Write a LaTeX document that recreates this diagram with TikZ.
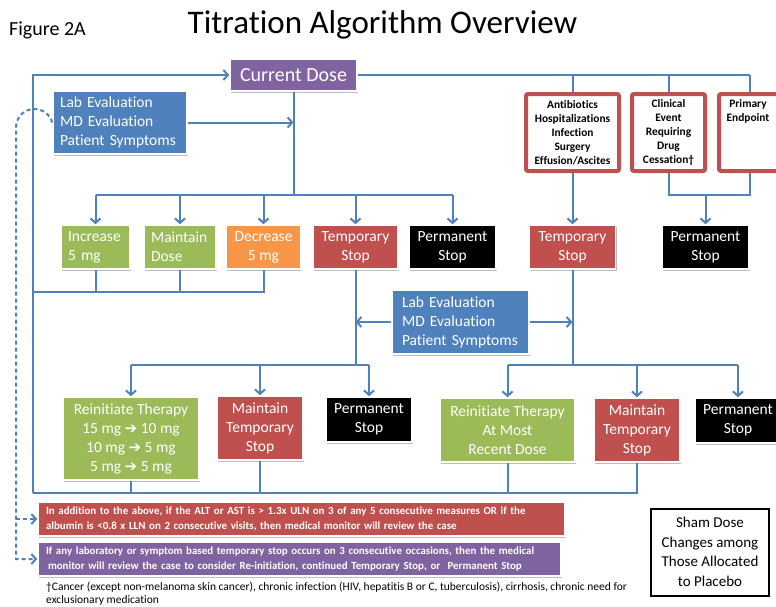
\documentclass[tikz,border=0pt]{standalone}
\usepackage{fontspec}
\setmainfont{Carlito}[Ligatures=NoCommon]
\newfontfamily\djv{DejaVu Sans}
\usetikzlibrary{arrows.meta,shadows}
\definecolor{lblue}{HTML}{4F81BD}
\definecolor{bpurple}{HTML}{8064A2}
\definecolor{bgreen}{HTML}{9BBB59}
\definecolor{borange}{HTML}{F79646}
\definecolor{bred}{HTML}{C0504D}
\newcommand{\fsz}[2]{\fontsize{#1}{#2}\selectfont}
\newcommand{\rar}{{\djv\bfseries\fontsize{15}{15}\selectfont ➔}}
\tikzset{
  ln/.style={draw=lblue, line width=2pt},
  arr/.style={ln, -{Straight Barb[length=4.5pt,width=10pt]}},
  darr/.style={ln, dash pattern=on 4pt off 3pt, -{Straight Barb[length=4.5pt,width=10pt]}},
  shad/.style={drop shadow={shadow xshift=1.2pt, shadow yshift=-1.5pt, fill=black, opacity=0.25}},
  box/.style={draw=white, line width=1.5pt, text=white, inner sep=0pt, align=center,
    font=\fsz{15.5}{19}, shad},
  rbox/.style={draw=bred, line width=4pt, fill=white, rounded corners=2pt, text=black,
    inner sep=0pt, align=center, font=\bfseries\fsz{11.4}{13.9}, shad},
  nbox/.style={draw=white, line width=1.5pt, text=white, inner sep=0pt, align=left,
    font=\bfseries\fsz{10.9}{14.5}, shad},
}
\begin{document}
\begin{tikzpicture}[x=1pt,y=-1pt]
\useasboundingbox (0,0) rectangle (776,606);
\fill[white] (0,0) rectangle (776,606);

% titles
\node[anchor=base west, inner sep=0pt, font=\fsz{20}{24}] (fig) at (9,35) {Figure 2A};
\node[anchor=base, inner sep=0pt, font=\fsz{33}{38}] (title) at (382.5,33) {Titration Algorithm Overview};

% top
\node[box, fill=bpurple, minimum width=127pt, minimum height=32pt, font=\fsz{20}{24}] (cd) at (293.5,75) {Current Dose};
\node[box, fill=lblue, minimum width=134pt, minimum height=63pt, align=left, text width=120pt] (labT) at (120,122.5) {Lab Evaluation\\MD Evaluation\\Patient Symptoms};

\node[rbox, minimum width=93pt, minimum height=77pt] (ab) at (572.5,132.5) {Antibiotics\\Hospitalizations\\Infection\\Surgery\\Effusion/Ascites};
\node[rbox, minimum width=73pt, minimum height=77pt] (ce) at (668.5,132.5) {Clinical\\Event\\Requiring\\Drug\\Cessation†};
\node[rbox, minimum width=62pt, minimum height=77pt] (pe) at (750,132.5) {};
\node[anchor=north, inner sep=0pt, align=center, font=\bfseries\fsz{11.4}{13.9}] (pet) at (748,99.5) {Primary\\Endpoint};

% row 1
\node[box, fill=bgreen, minimum width=69pt, minimum height=44pt, align=left, text width=55pt] (inc) at (95.5,247) {Increase\\5 mg};
\node[box, fill=bgreen, minimum width=72pt, minimum height=44pt, align=left, text width=58pt] (mnt) at (180,247) {Maintain\\Dose};
\node[box, fill=borange, minimum width=75pt, minimum height=44pt] (dec) at (263.5,247) {Decrease\\5 mg};
\node[box, fill=bred, minimum width=85pt, minimum height=44pt] (tsl) at (355.5,247) {Temporary\\Stop};
\node[box, fill=black, minimum width=87pt, minimum height=44pt] (psl) at (452.5,247) {Permanent\\Stop};
\node[box, fill=bred, minimum width=86pt, minimum height=44pt] (tsr) at (572.5,247) {Temporary\\Stop};
\node[box, fill=black, minimum width=87pt, minimum height=44pt] (psr) at (705.5,247) {Permanent\\Stop};

% middle lab box
\node[box, fill=lblue, minimum width=137pt, minimum height=64pt, align=left, text width=117pt] (labM) at (460.5,322) {Lab Evaluation\\MD Evaluation\\Patient Symptoms};

% row 2
\node[box, fill=bgreen, minimum width=136pt, minimum height=83pt] (reL) at (131,438.5) {Reinitiate Therapy\\15 mg \rar{} 10 mg\\10 mg \rar{} 5 mg\\5 mg \rar{} 5 mg};
\node[box, fill=bred, minimum width=86pt, minimum height=64pt] (mtL) at (260,428) {Maintain\\Temporary\\Stop};
\node[box, fill=black, minimum width=86pt, minimum height=45pt] (psL2) at (369,419.5) {Permanent\\Stop};
\node[box, fill=bgreen, minimum width=135pt, minimum height=64pt] (reR) at (507.5,430) {Reinitiate Therapy\\At Most\\Recent Dose};
\node[box, fill=bred, minimum width=86pt, minimum height=64pt] (mtR) at (637,430) {Maintain\\Temporary\\Stop};
\node[box, fill=black, minimum width=86pt, minimum height=45pt] (psR2) at (738,420.5) {Permanent\\Stop};

% notes
\node[nbox, fill=bred, minimum width=527pt, minimum height=34pt, text width=511pt] (rbx) at (301.5,519) {In addition to the above, if the ALT or AST is > 1.3x ULN on 3 of any 5 consecutive measures OR if the\\albumin is <0.8 x LLN on 2 consecutive visits, then medical monitor will review the case};
\node[nbox, fill=bpurple, minimum width=523pt, minimum height=34pt, text width=507pt] (pbx) at (299.5,559) {If any laboratory or symptom based temporary stop occurs on 3 consecutive occasions, then the medical\\\hspace*{2pt}monitor will review the case to consider Re-initiation, continued Temporary Stop, or\ \ Permanent Stop};
\node[draw=black, line width=2pt, fill=white, minimum width=118pt, minimum height=87pt, align=center, font=\fsz{15}{19.5}, inner sep=0pt, shad] (sham) at (710,552) {Sham Dose\\Changes among\\Those Allocated\\to Placebo};
\node[anchor=north west, inner sep=0pt, align=left, font=\fsz{11.5}{13}] (foot) at (46,582) {†Cancer (except non-melanoma skin cancer), chronic infection (HIV, hepatitis B or C, tuberculosis), cirrhosis, chronic need for\\exclusionary medication};

% coordinates
\coordinate (cBL) at (33,493);
\coordinate (cML) at (33,292);
\coordinate (cBr) at (293.5,195);
\coordinate (cJ) at (705.5,195);
\coordinate (c2L) at (355.5,365);
\coordinate (c2R) at (572.5,365);

% connectors
\draw[arr] (cBL) |- (cd.west);
\draw[ln] (mtR.south) |- (cBL);
\draw[ln] (reL.south) -- (reL.south |- cBL);
\draw[ln] (mtL.south) -- (mtL.south |- cBL);
\draw[ln] (reR.south) -- (reR.south |- cBL);
\draw[ln] (dec.south) |- (cML);
\draw[ln] (inc.south) -- (inc.south |- cML);
\draw[ln] (mnt.south) -- (mnt.south |- cML);

\draw[ln] (cd.south) -- (cBr);
\draw[ln] (inc.north |- cBr) -- (psl.north |- cBr);
\foreach \n in {inc,mnt,dec,tsl,psl} \draw[arr] (\n.north |- cBr) -- (\n.north);
\draw[arr] (labT.east) -- (labT.east -| cd.south);

\draw[ln] (cd.east) -- (pe.north |- cd.east);
\foreach \n in {ab,ce,pe} \draw[ln] (\n.north |- cd.east) -- (\n.north);
\draw[arr] (ab.south) -- (tsr.north);
\draw[ln] (ce.south) |- (pe.south |- cJ) -- (pe.south);
\draw[arr] (cJ) -- (psr.north);

\draw[ln] (tsl.south) -- (c2L);
\draw[ln] (reL.north |- c2L) -- (psL2.north |- c2L);
\foreach \n in {reL,mtL,psL2} \draw[arr] (\n.north |- c2L) -- (\n.north);
\draw[arr] (labM.west) -- (labM.west -| tsl.south);
\draw[arr] (labM.east) -- (labM.east -| tsr.south);
\draw[ln] (tsr.south) -- (c2R);
\draw[ln] (reR.north |- c2R) -- (psR2.north |- c2R);
\foreach \n in {reR,mtR,psR2} \draw[arr] (\n.north |- c2R) -- (\n.north);

% dashed feedback
\draw[darr] (labT.west) .. controls (47,104) and (19,104) .. (16,126) -- (16,559) -- (pbx.west);
\draw[darr] (16,519) -- (rbx.west);
\end{tikzpicture}
\end{document}
